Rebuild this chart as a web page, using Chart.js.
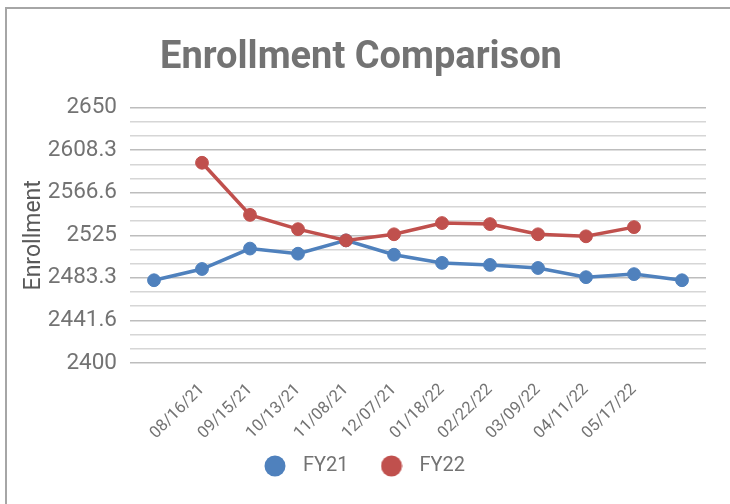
<!DOCTYPE html>
<html>
<head>
<meta charset="utf-8">
<script src="https://cdn.jsdelivr.net/npm/chart.js@4.4.1/dist/chart.umd.min.js"></script>
<style>
    body { margin: 0; background: #fff; }
    #wrap { position: relative; width: 730px; height: 504px; overflow: hidden; }
    #frame {
        position: absolute; left: 5px; top: 7px; width: 740px; height: 495px;
        border-left: 2px solid #a6a6a6; border-top: 2px solid #a6a6a6;
        border-bottom: 1px solid #ececec; pointer-events: none;
    }
</style>
</head>
<body>
<div id="wrap">
    <canvas id="enrollChart" width="730" height="504"></canvas>
    <div id="frame"></div>
</div>
<script>
// dates on the x axis (first and last slots have no label)
const dates = ['', '08/16/21', '09/15/21', '10/13/21', '11/08/21', '12/07/21',
    '01/18/22', '02/22/22', '03/09/22', '04/11/22', '05/17/22', ''];

const fy21 = [2481, 2492, 2512, 2507, 2520, 2506, 2498, 2496, 2493, 2484, 2487, 2481];
const fy22 = [null, 2596, 2545, 2531, 2520, 2526, 2537, 2536, 2526, 2524, 2533, null];

// y tick labels, one for every third gridline
const yLabels = ['2400', '2441.6', '2483.3', '2525', '2566.6', '2608.3', '2650'];

const gray = '#737373';

// round legend marker, drawn on a small canvas so the legend box can be wider than the dot
function dot(color) {
    const c = document.createElement('canvas');
    c.width = 22;
    c.height = 22;
    const g = c.getContext('2d');
    g.fillStyle = color;
    g.beginPath();
    g.arc(11, 11, 10.5, 0, Math.PI * 2);
    g.fill();
    return c;
}

// let the rotated date labels hang below the x axis box without being clipped
const labelOverhang = {
    id: 'labelOverhang',
    afterLayout(chart) {
        chart.scales.x.bottom += 30;
    }
};

const ctx = document.getElementById('enrollChart').getContext('2d');
new Chart(ctx, {
    type: 'line',
    data: {
        labels: dates,
        datasets: [{
            label: 'FY21',
            data: fy21,
            borderColor: '#4f81bd',
            backgroundColor: '#4f81bd',
            borderWidth: 3.5,
            pointRadius: 6.4,
            pointHoverRadius: 6.4,
            pointBorderWidth: 1,
            order: 1
        }, {
            label: 'FY22',
            data: fy22,
            borderColor: '#c0504d',
            backgroundColor: '#c0504d',
            borderWidth: 3.5,
            pointRadius: 6.4,
            pointHoverRadius: 6.4,
            pointBorderWidth: 1,
            order: 0
        }]
    },
    plugins: [labelOverhang],
    options: {
        responsive: false,
        animation: false,
        layout: { padding: { left: 16, right: 24, top: 7, bottom: 18 } },
        plugins: {
            title: {
                display: true,
                text: 'Enrollment Comparison',
                color: gray,
                font: { family: 'Roboto', size: 38, weight: 'bold' },
                padding: { top: 29, bottom: 26 }
            },
            legend: {
                position: 'bottom',
                labels: {
                    color: gray,
                    font: { family: 'Roboto', size: 20 },
                    usePointStyle: true,
                    pointStyleWidth: 36,
                    padding: 25,
                    sort: (a, b) => a.datasetIndex - b.datasetIndex,
                    generateLabels: chart =>
                        Chart.defaults.plugins.legend.labels.generateLabels(chart).map(item => {
                            item.pointStyle = dot(chart.data.datasets[item.datasetIndex].borderColor);
                            return item;
                        })
                }
            },
            tooltip: { enabled: false }
        },
        scales: {
            x: {
                offset: true,
                grid: { display: false, drawTicks: false },
                border: { display: false },
                ticks: {
                    color: gray,
                    font: { family: 'Roboto', size: 16.5 },
                    maxRotation: 45,
                    minRotation: 45,
                    autoSkip: false,
                    padding: 17
                },
                afterFit: scale => { scale.height = 68; }
            },
            y: {
                min: 2400,
                max: 2650,
                border: { display: false },
                grid: {
                    drawTicks: false,
                    lineWidth: 1.5,
                    color: c => (c.index % 3 === 0 ? '#bdbdbd' : '#d6d6d6')
                },
                title: {
                    display: true,
                    text: 'Enrollment',
                    color: '#595959',
                    font: { family: 'Roboto', size: 23 },
                    padding: { top: 4, bottom: 0 }
                },
                ticks: {
                    stepSize: 250 / 18,
                    autoSkip: false,
                    color: gray,
                    font: { family: 'Roboto', size: 22.5 },
                    padding: 13,
                    callback: (v, i) => (i % 3 === 0 ? yLabels[i / 3] : '')
                },
                afterFit: scale => { scale.width = 114; }
            }
        }
    }
});
</script>
</body>
</html>
